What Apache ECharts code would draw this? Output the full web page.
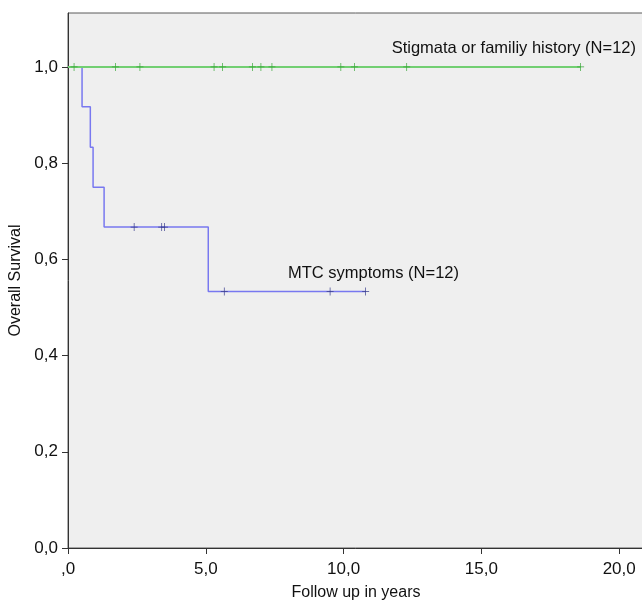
<!DOCTYPE html>
<html>
<head>
<meta charset="utf-8">
<script src="https://cdn.jsdelivr.net/npm/echarts@6/dist/echarts.min.js"></script>
<style>html,body{margin:0;padding:0;background:#fff}#c{width:642px;height:602px}</style>
</head>
<body>
<div id="c"></div>
<script>
// Kaplan-Meier step points (time in years, survival)
const mtcTimes = [0, 0.51, 0.81, 0.91, 1.31, 5.09, 10.8];
const mtcSurv  = [1, 0.917, 0.833, 0.75, 0.667, 0.533, 0.533];
const mtcCensorTimes = [2.4, 3.4, 3.5, 5.67, 9.51, 10.8];
const mtcCensorSurv  = [0.667, 0.667, 0.667, 0.533, 0.533, 0.533];

const stigTimes = [0, 18.6];
const stigSurv  = [1, 1];
const stigCensorTimes = [0.22, 1.72, 2.61, 5.3, 5.61, 6.69, 7.0, 7.4, 9.9, 10.39, 12.29, 18.6];
const stigCensorSurv  = [1, 1, 1, 1, 1, 1, 1, 1, 1, 1, 1, 1];

const xTicks = [0, 5, 10, 15, 20];
const xTickLabels = [',0', '5,0', '10,0', '15,0', '20,0'];
const yTicks = [0, 0.2, 0.4, 0.6, 0.8, 1.0];
const yTickLabels = ['0,0', '0,2', '0,4', '0,6', '0,8', '1,0'];

const seriesNames = ['MTC symptoms (N=12)', 'Stigmata or familiy history (N=12)'];

const zip = (a, b) => a.map((v, i) => [v, b[i]]);
const FONT = '"Liberation Sans", Arial, sans-serif';
const cross = 'path://M4.5,0H5.5V4.5H10V5.5H5.5V10H4.5V5.5H0V4.5H4.5Z';

const chart = echarts.init(document.getElementById('c'), null, {renderer: 'canvas'});
chart.setOption({
  animation: false,
  backgroundColor: '#ffffff',
  textStyle: {fontFamily: FONT},
  grid: {left: 68, top: 13, right: -2, bottom: 54, show: true, containLabel: false,
         outerBoundsMode: 'none',
         backgroundColor: '#efefef', borderColor: '#5a5a5a', borderWidth: 1},
  xAxis: {
    type: 'value', min: 0, max: 20.9,
    name: 'Follow up in years', nameLocation: 'middle', nameGap: 37,
    nameTextStyle: {fontSize: 16, color: '#111', fontFamily: FONT},
    axisLine: {show: true, lineStyle: {color: '#333', width: 1}},
    axisTick: {show: true, length: 6, customValues: xTicks, lineStyle: {color: '#333'}},
    axisLabel: {customValues: xTicks, fontSize: 17, color: '#111', margin: 13,
      formatter: v => xTickLabels[xTicks.indexOf(v)] ?? ''},
    splitLine: {show: false}
  },
  yAxis: {
    type: 'value', min: 0, max: 1.112,
    name: 'Overall Survival', nameLocation: 'middle', nameGap: 41,
    nameTextStyle: {fontSize: 16, color: '#111', fontFamily: FONT},
    axisLine: {show: true, lineStyle: {color: '#333', width: 1}},
    axisTick: {show: true, length: 6, customValues: yTicks, lineStyle: {color: '#333'}},
    axisLabel: {customValues: yTicks, fontSize: 17, color: '#111', margin: 10,
      formatter: v => { const i = yTicks.findIndex(t => Math.abs(t - v) < 1e-6); return i >= 0 ? yTickLabels[i] : ''; }},
    splitLine: {show: false}
  },
  series: [
    {name: seriesNames[1], type: 'line', step: 'end', data: zip(stigTimes, stigSurv),
     showSymbol: false, lineStyle: {color: '#72cf72', width: 2}, z: 3},
    {name: seriesNames[0], type: 'line', step: 'end', data: zip(mtcTimes, mtcSurv),
     showSymbol: false, lineStyle: {color: '#7878f0', width: 1.5}, z: 2},
    {type: 'scatter', data: zip(stigCensorTimes, stigCensorSurv), symbol: cross,
     symbolSize: [7, 8], itemStyle: {color: '#3aa83a', opacity: 1}, z: 4},
    {type: 'scatter', data: zip(mtcCensorTimes, mtcCensorSurv), symbol: cross,
     symbolSize: [7, 8], itemStyle: {color: '#3b3f8f', opacity: 1}, z: 4}
  ],
  graphic: [
    {type: 'text', right: 6, top: 40, style: {text: seriesNames[1], font: '16.5px ' + FONT, fill: '#111'}},
    {type: 'text', left: 288, top: 265, style: {text: seriesNames[0], font: '16.5px ' + FONT, fill: '#111'}}
  ]
});
</script>
</body>
</html>
